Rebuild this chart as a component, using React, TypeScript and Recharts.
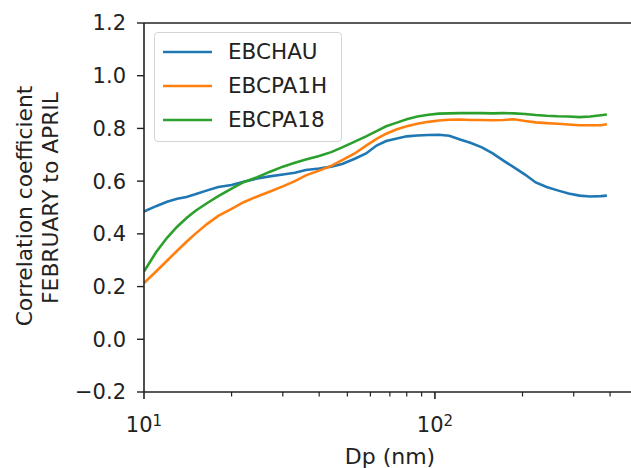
import React from 'react';
import { LineChart, Line, XAxis, YAxis, Legend, ReferenceLine } from 'recharts';

// Particle diameter (nm)
const dp = [10, 11, 12, 13, 14, 15, 16.5, 18, 20, 22, 24.5, 27, 30, 33, 36, 40, 44, 48, 53, 58, 63, 68, 74, 80, 87, 95, 103, 112, 122, 133, 145, 158, 172, 187, 204, 222, 242, 264, 288, 314, 342, 372, 390];

const ebchau = [0.485, 0.505, 0.522, 0.533, 0.54, 0.55, 0.565, 0.578, 0.585, 0.598, 0.61, 0.618, 0.625, 0.632, 0.642, 0.648, 0.655, 0.665, 0.685, 0.705, 0.735, 0.752, 0.762, 0.77, 0.773, 0.775, 0.776, 0.772, 0.758, 0.745, 0.728, 0.705, 0.678, 0.652, 0.625, 0.595, 0.578, 0.565, 0.553, 0.545, 0.542, 0.543, 0.545];

const ebcpa1h = [0.213, 0.257, 0.298, 0.336, 0.37, 0.4, 0.438, 0.468, 0.495, 0.52, 0.542, 0.56, 0.58, 0.6, 0.622, 0.64, 0.658, 0.68, 0.705, 0.735, 0.76, 0.78, 0.797, 0.808, 0.818, 0.825, 0.83, 0.833, 0.834, 0.832, 0.832, 0.831, 0.832, 0.835, 0.828, 0.823, 0.82, 0.818, 0.815, 0.812, 0.812, 0.812, 0.816];

const ebcpa18 = [0.257, 0.33, 0.385, 0.427, 0.46, 0.487, 0.517, 0.543, 0.572, 0.596, 0.615, 0.635, 0.655, 0.67, 0.682, 0.695, 0.71, 0.728, 0.75, 0.77, 0.79, 0.808, 0.822, 0.835, 0.845, 0.852, 0.856, 0.857, 0.858, 0.858, 0.858, 0.857, 0.858, 0.857, 0.855, 0.851, 0.848, 0.846, 0.845, 0.843, 0.845, 0.85, 0.853];

const seriesNames = ['EBCHAU', 'EBCPA1H', 'EBCPA18'];
const seriesColors = ['#1f77b4', '#ff7f0e', '#2ca02c'];

const xTicks = [10, 20, 30, 40, 50, 60, 70, 80, 90, 100, 200, 300, 400];
const yTicks = [-0.2, 0, 0.2, 0.4, 0.6, 0.8, 1.0, 1.2];

const yLabelLines = ['Correlation coefficient', 'FEBRUARY to APRIL'];
const xLabel = 'Dp (nm)';

const data = dp.map((d, i) => ({
  dp: d,
  EBCHAU: ebchau[i],
  EBCPA1H: ebcpa1h[i],
  EBCPA18: ebcpa18[i],
}));

const FONT = 'DejaVu Sans, sans-serif';
const INK = '#222';

const XTick = (props: any) => {
  const { x, y, payload } = props;
  const v = payload.value;
  const major = v === 10 || v === 100;
  const exp = Math.round(Math.log10(v));
  return (
    <g>
      <line x1={x} x2={x} y1={y} y2={y + (major ? 7 : 4.5)} stroke={INK} strokeWidth={major ? 1.6 : 1.2} />
      {major && (
        <text x={x} y={y + 40} textAnchor="middle" fontSize={21} fill={INK} fontFamily={FONT}>
          <tspan>10</tspan>
          <tspan dy={-6} fontSize={15}>{String(exp)}</tspan>
        </text>
      )}
    </g>
  );
};

const fmtY = (v: number) => (v < 0 ? '\u2212' : '') + Math.abs(v).toFixed(1);

const LegendBox = () => (
  <div
    style={{
      boxSizing: 'border-box',
      width: 188,
      height: 110,
      border: '1.5px solid #d4d4d4',
      borderRadius: 4,
      background: 'rgba(255,255,255,0.85)',
      paddingTop: 2,
      paddingLeft: 8,
      fontFamily: FONT,
      fontSize: 21.5,
      color: INK,
    }}
  >
    {seriesNames.map((n, i) => (
      <div key={n} style={{ display: 'flex', alignItems: 'center', height: 34 }}>
        <svg width={49} height={6} style={{ marginRight: 16 }}>
          <line x1={0} x2={49} y1={3} y2={3} stroke={seriesColors[i]} strokeWidth={2.6} />
        </svg>
        <span style={{ lineHeight: '34px' }}>{n}</span>
      </div>
    ))}
  </div>
);

export default function App() {
  return (
    <div style={{ position: 'absolute', left: 0, top: 0, width: 631, height: 468, background: '#fff' }}>
      <LineChart width={631} height={468} data={data} margin={{ top: 23, right: 0, bottom: 0, left: 0 }}>
        <XAxis
          dataKey="dp"
          type="number"
          scale="log"
          domain={[10, 472]}
          allowDataOverflow
          ticks={xTicks}
          interval={0}
          height={76}
          tickSize={0}
          tickMargin={0}
          tickLine={false}
          axisLine={{ stroke: INK, strokeWidth: 1.6 }}
          tick={<XTick />}
          label={{
            content: () => (
              <text x={390} y={464} textAnchor="middle" fontSize={22} fill={INK} fontFamily={FONT}>
                {xLabel}
              </text>
            ),
          }}
        />
        <YAxis
          type="number"
          domain={[-0.2, 1.2]}
          ticks={yTicks}
          interval={0}
          width={144}
          tickSize={7}
          tickMargin={11}
          tickFormatter={fmtY}
          tick={{ fontSize: 21, fill: INK, fontFamily: FONT }}
          tickLine={{ stroke: INK, strokeWidth: 1.4 }}
          axisLine={{ stroke: INK, strokeWidth: 1.6 }}
          label={{
            content: () => (
              <g>
                <text
                  transform="translate(32, 206) rotate(-90)"
                  textAnchor="middle"
                  fontSize={21.8}
                  fill={INK}
                  fontFamily={FONT}
                >
                  {yLabelLines[0]}
                </text>
                <text
                  transform="translate(58, 198) rotate(-90)"
                  textAnchor="middle"
                  fontSize={21.8}
                  fill={INK}
                  fontFamily={FONT}
                >
                  {yLabelLines[1]}
                </text>
              </g>
            ),
          }}
        />
        <ReferenceLine y={1.2} stroke={INK} strokeWidth={1.6} />
        <Legend
          layout="vertical"
          align="center"
          verticalAlign="middle"
          content={<LegendBox />}
          wrapperStyle={{ left: 154, top: 32, width: 188, height: 110 }}
        />
        {seriesNames.map((n, i) => (
          <Line
            key={n}
            type="linear"
            dataKey={n}
            stroke={seriesColors[i]}
            strokeWidth={2.6}
            dot={false}
            activeDot={false}
            isAnimationActive={false}
          />
        ))}
      </LineChart>
    </div>
  );
}
